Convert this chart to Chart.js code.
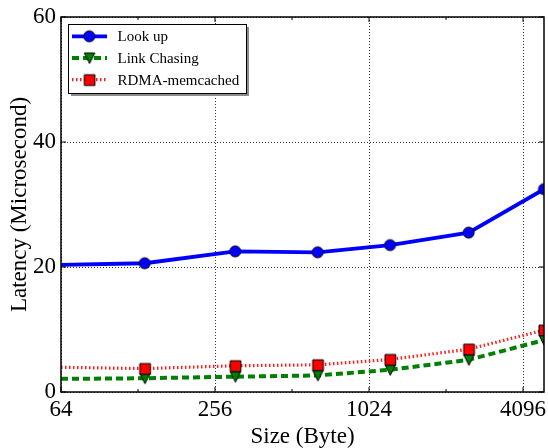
<!DOCTYPE html>
<html>
<head>
<meta charset="utf-8">
<script src="https://cdn.jsdelivr.net/npm/chart.js@4"></script>
<style>
  html, body { margin: 0; padding: 0; background: #fff; }
  #wrap { width: 548px; height: 448px; }
</style>
</head>
<body>
<div id="wrap"><canvas id="c" width="548" height="448"></canvas></div>
<script>
// values
var sizes = [64, 136, 307, 645, 1237, 2510, 4946];
var lookUp = [20.35, 20.6, 22.5, 22.35, 23.5, 25.5, 32.45];
var linkChasing = [2.1, 2.2, 2.45, 2.65, 3.55, 5.15, 8.3];
var rdmaMemcached = [3.95, 3.75, 4.2, 4.35, 5.2, 6.85, 9.9];
var xTicks = [64, 256, 1024, 4096];
var xMinorTicks = [128, 512, 2048];
var yTicks = [0, 20, 40, 60];

var FONT = "'Liberation Serif', 'Times New Roman', serif";

// matplotlib-like markers as little canvases
function marker(kind, fill, s) {
  var c = document.createElement('canvas');
  c.width = s + 4; c.height = s + 4;
  var g = c.getContext('2d');
  var m = (s + 4) / 2, h = s / 2;
  g.beginPath();
  if (kind == 'circle') {
    g.arc(m, m, h, 0, Math.PI * 2);
  } else if (kind == 'tri') {
    g.moveTo(m - h, m - h); g.lineTo(m + h, m - h); g.lineTo(m, m + h); g.closePath();
  } else {
    g.rect(m - h, m - h, s, s);
  }
  g.fillStyle = fill; g.fill();
  g.lineWidth = 1; g.strokeStyle = '#000'; g.stroke();
  return c;
}
var mCircle = marker('circle', '#0000ff', 11);
var mTri = marker('tri', '#008000', 10.5);
var mSquare = marker('square', '#ff0000', 10.7);

function pts(vals) {
  return sizes.map(function (s, i) { return { x: Math.log2(s), y: vals[i] }; });
}
var radii = sizes.map(function (s, i) { return i == 0 ? 0 : 5; });

// keep the plot box where the reference has it
function noEdgePadding(s) {
  s.paddingLeft = s.paddingRight = s.paddingTop = s.paddingBottom = 0;
  s.getPadding = function () { return { left: 0, top: 0, right: 0, bottom: 0 }; };
}

var frameAndLegend = {
  id: 'frameAndLegend',
  afterDatasetsDraw: function (chart) {
    var ctx = chart.ctx, a = chart.chartArea;
    var xs = chart.scales.x, ys = chart.scales.y;
    ctx.save();
    ctx.strokeStyle = '#000';
    ctx.lineWidth = 1;
    // inward ticks
    ctx.beginPath();
    xTicks.forEach(function (t) {
      var px = xs.getPixelForValue(Math.log2(t));
      ctx.moveTo(px, a.bottom); ctx.lineTo(px, a.bottom - 5);
      ctx.moveTo(px, a.top); ctx.lineTo(px, a.top + 5);
    });
    xMinorTicks.forEach(function (t) {
      var px = xs.getPixelForValue(Math.log2(t));
      ctx.moveTo(px, a.bottom); ctx.lineTo(px, a.bottom - 3);
      ctx.moveTo(px, a.top); ctx.lineTo(px, a.top + 3);
    });
    yTicks.forEach(function (t) {
      var py = ys.getPixelForValue(t);
      ctx.moveTo(a.left, py); ctx.lineTo(a.left + 5, py);
      ctx.moveTo(a.right, py); ctx.lineTo(a.right - 5, py);
    });
    ctx.stroke();
    // frame
    ctx.lineWidth = 1.5;
    ctx.strokeRect(a.left, a.top, a.right - a.left, a.bottom - a.top);

    // legend
    var bx = 68, by = 24, bw = 178, bh = 69;
    ctx.fillStyle = '#8c8c8c';
    ctx.fillRect(bx + 3, by + 3, bw, bh);
    ctx.fillStyle = '#fff';
    ctx.fillRect(bx, by, bw, bh);
    ctx.lineWidth = 1;
    ctx.strokeStyle = '#000';
    ctx.strokeRect(bx + 0.5, by + 0.5, bw, bh);
    ctx.font = '15px ' + FONT;
    ctx.textBaseline = 'middle';
    chart.data.datasets.forEach(function (ds, i) {
      var ly = 36.3 + i * 21.7;
      ctx.beginPath();
      ctx.strokeStyle = ds.borderColor;
      ctx.lineWidth = ds.borderWidth;
      ctx.setLineDash(ds.borderDash || []);
      ctx.moveTo(72, ly); ctx.lineTo(107, ly);
      ctx.stroke();
      ctx.setLineDash([]);
      var img = ds.pointStyle;
      ctx.drawImage(img, 89.3 - img.width / 2, ly - img.height / 2);
      ctx.fillStyle = '#000';
      ctx.fillText(ds.label, 117.5, ly + 1);
    });
    ctx.restore();
  }
};

new Chart(document.getElementById('c'), {
  type: 'line',
  data: {
    datasets: [
      {
        label: 'Look up', data: pts(lookUp), borderColor: '#0000ff', borderWidth: 3.8,
        pointStyle: mCircle, pointRadius: radii, order: 3
      },
      {
        label: 'Link Chasing', data: pts(linkChasing), borderColor: '#008000', borderWidth: 4,
        borderDash: [7, 4], pointStyle: mTri, pointRadius: radii, order: 2
      },
      {
        label: 'RDMA-memcached', data: pts(rdmaMemcached), borderColor: '#ff1a1a', borderWidth: 3.2,
        borderDash: [1.5, 2.5], pointStyle: mSquare, pointRadius: radii, order: 1
      }
    ]
  },
  options: {
    responsive: false,
    animation: false,
    events: [],
    layout: { autoPadding: false, padding: { top: 17, right: 4, left: 0, bottom: 0 } },
    plugins: { legend: { display: false }, tooltip: { enabled: false } },
    elements: { line: { tension: 0, fill: false } },
    scales: {
      x: {
        type: 'linear',
        min: Math.log2(64),
        max: Math.log2(sizes[sizes.length - 1]),
        afterBuildTicks: function (s) {
          s.ticks = xTicks.map(function (t) { return { value: Math.log2(t) }; });
        },
        afterFit: function (s) { s.height = 56; noEdgePadding(s); },
        ticks: {
          color: '#000', padding: 4, maxRotation: 0, autoSkip: false,
          font: { family: FONT, size: 23 },
          callback: function (v) { return String(Math.round(Math.pow(2, v))); }
        },
        grid: { color: 'rgba(0,0,0,0.8)', lineWidth: 1, drawTicks: false },
        border: { display: false, dash: [1, 2] },
        title: {
          display: true, text: 'Size (Byte)', color: '#000',
          font: { family: FONT, size: 23, lineHeight: 1 }, padding: 0
        }
      },
      y: {
        min: 0, max: 60,
        afterBuildTicks: function (s) {
          s.ticks = yTicks.map(function (t) { return { value: t }; });
        },
        afterFit: function (s) { s.width = 61; noEdgePadding(s); },
        ticks: {
          color: '#000', padding: 5,
          font: { family: FONT, size: 23 }
        },
        grid: { color: 'rgba(0,0,0,0.8)', lineWidth: 1, drawTicks: false },
        border: { display: false, dash: [1, 2] },
        title: {
          display: true, text: 'Latency (Microsecond)', color: '#000',
          font: { family: FONT, size: 23, lineHeight: 1 }, padding: { top: 8.5, bottom: 0 }
        }
      }
    }
  },
  plugins: [frameAndLegend]
});
</script>
</body>
</html>
